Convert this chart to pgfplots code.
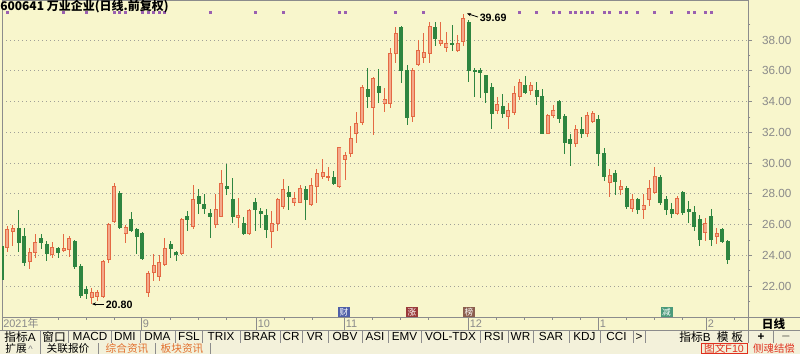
\documentclass[border=0pt]{standalone}
\usepackage{fontspec}
\setmainfont{Liberation Sans}
\newfontfamily\cjk{Noto Sans CJK SC}
\usepackage{pgfplots}
\usepackage{pgfplotstable}
\pgfplotsset{compat=1.18}
\usetikzlibrary{arrows.meta}

\definecolor{bg}{HTML}{F8F6CC}
\definecolor{btnbg}{HTML}{F3F1DA}
\definecolor{upline}{HTML}{E46A44}
\definecolor{upfill}{HTML}{F4A98A}
\definecolor{dncol}{HTML}{2E8540}
\definecolor{gridc}{HTML}{A0A098}
\definecolor{axc}{HTML}{8C8C8C}
\definecolor{labc}{HTML}{8A8A8A}
\definecolor{dotc}{HTML}{9A60B0}
\definecolor{orng}{HTML}{E2702E}
\definecolor{redt}{HTML}{E0301E}
\definecolor{icA}{HTML}{4F5FA8}
\definecolor{icB}{HTML}{9A3A3A}
\definecolor{icC}{HTML}{8B5E4E}
\definecolor{icD}{HTML}{4A9A7A}

% rising candles: index, open, high, low, close
\pgfplotstableread{
i O H L C
2 24.5 25.9 24.2 25.7
3 25.55 26.0 24.6 25.75
6 23.6 24.5 23.1 24.2
7 24.15 25.4 23.8 24.8
10 24.05 24.85 23.8 24.5
12 24.3 25.4 24.2 24.45
13 24.35 25.25 23.9 25.1
17 21.25 21.9 20.8 21.55
18 21.3 21.75 21.05 21.6
19 21.35 23.7 21.2 23.6
20 23.7 26.1 23.5 26.0
21 26.2 28.7 26.1 28.5
23 25.45 26.0 24.8 25.8
27 21.6 23.0 21.3 22.8
28 22.9 24.1 22.3 23.35
29 22.6 24.0 22.3 23.55
30 23.4 25.1 23.3 24.45
33 24.1 26.4 24.0 26.3
35 25.85 28.6 25.7 27.6
39 26.0 28.0 25.8 26.95
40 26.55 29.55 26.5 28.7
43 26.45 27.7 25.8 26.6
45 25.45 27.0 25.3 26.9
49 25.55 26.9 24.5 26.1
50 26.1 27.75 25.6 27.6
51 27.15 28.95 27.0 28.3
53 27.45 28.1 27.2 27.7
54 27.45 28.55 27.4 28.35
56 27.3 29.0 27.2 28.55
57 28.45 29.6 27.4 29.35
58 29.1 30.25 28.95 29.4
59 29.05 29.75 28.8 29.15
61 28.45 31.05 28.4 31.0
62 30.2 30.7 28.9 30.5
63 30.65 32.4 30.4 31.6
64 31.95 33.3 31.3 32.6
65 32.65 35.1 32.5 34.9
67 33.6 35.6 31.8 35.5
69 33.85 34.9 33.3 34.15
70 33.9 37.5 33.6 37.15
71 37.15 38.85 36.5 38.45
74 33.0 36.2 32.7 36.05
75 36.4 38.0 36.3 37.35
76 36.85 38.45 36.5 37.2
77 37.15 39.2 36.5 38.85
79 37.75 39.2 37.6 38.0
80 37.5 38.55 37.2 37.8
82 37.35 38.3 37.2 37.8
83 37.9 39.69 37.6 39.4
89 33.45 34.3 33.2 33.8
91 33.0 33.9 32.2 33.45
92 33.3 35.0 33.1 34.55
93 34.35 35.45 34.1 35.25
95 34.75 35.25 34.4 35.05
98 31.95 33.2 31.9 33.1
99 33.1 33.75 32.9 33.45
103 31.3 32.5 31.05 32.2
105 31.95 33.3 31.7 33.1
106 32.7 33.4 32.6 33.25
109 28.75 29.6 27.8 29.2
111 28.3 28.9 27.9 28.45
113 27.05 28.0 26.8 27.65
115 27.0 28.0 26.35 27.25
116 27.6 28.9 27.2 28.35
117 28.1 29.75 28.0 29.1
121 26.75 27.85 26.6 27.7
126 25.5 26.45 24.95 26.1
128 25.2 25.75 24.75 25.4
}\updata

% falling candles: index, open, high, low, close
\pgfplotstableread{
i O H L C
1 24.6 24.8 22.2 22.4
4 25.75 26.95 24.2 24.8
5 25.2 25.8 23.3 23.5
8 25.1 25.4 24.4 24.85
9 24.7 24.9 23.6 24.1
11 24.45 24.55 23.8 24.2
14 24.9 25.0 23.1 23.25
15 23.3 23.4 21.2 21.4
16 21.8 22.0 21.15 21.5
22 28.05 28.2 25.7 25.8
24 26.35 26.8 25.5 25.6
25 25.7 25.75 24.1 25.2
26 25.4 25.5 23.7 23.8
31 24.7 24.9 23.8 24.45
32 24.15 24.3 23.6 24.05
34 26.5 26.9 25.6 26.35
36 27.8 28.3 26.7 27.35
37 27.3 28.0 26.7 27.05
38 26.7 27.0 25.1 26.5
41 28.5 29.95 27.9 28.35
42 27.6 29.0 26.1 26.5
44 26.1 26.5 25.3 25.45
46 27.45 27.7 25.6 27.0
47 26.85 27.05 25.8 26.75
48 26.6 27.0 25.1 25.65
52 28.1 28.5 26.95 27.85
55 28.25 28.5 26.3 27.6
60 29.05 29.5 28.6 28.7
66 34.8 36.2 33.6 34.3
68 34.95 36.1 33.9 34.6
72 38.8 38.9 35.2 36.05
73 36.05 36.4 32.5 32.95
78 38.8 39.2 37.6 38.1
81 37.8 39.0 37.3 37.7
84 39.15 39.3 35.3 36.05
85 36.05 36.2 34.3 35.95
86 36.05 36.15 34.2 35.9
87 35.7 35.7 33.9 34.6
88 34.9 35.2 32.2 33.2
90 33.7 34.5 32.9 33.25
94 35.05 35.65 34.5 34.6
96 34.75 35.25 33.75 34.35
97 34.35 34.8 31.9 31.95
100 34.0 34.1 32.6 32.9
101 33.0 33.2 30.6 31.35
102 31.5 31.9 29.8 31.3
104 32.2 33.0 31.6 31.95
107 32.85 33.1 29.8 30.65
108 30.65 31.0 28.8 29.1
110 29.3 29.55 27.9 28.8
112 28.35 28.5 27.0 27.15
114 27.6 27.75 26.7 26.95
118 29.05 29.2 27.3 27.45
119 27.6 27.85 26.6 26.95
120 27.0 27.4 26.4 26.7
122 28.1 28.2 26.6 26.8
123 26.95 27.5 26.1 26.85
124 26.8 27.2 25.6 25.85
125 26.35 26.6 24.6 25.0
127 26.5 27.0 24.6 25.0
129 25.7 25.8 24.8 24.9
130 24.9 25.0 23.4 23.7
}\downdata

% info markers row
\pgfplotstableread{
i y
2 39.76
12 39.76
16 39.76
21 39.76
22 39.76
23 39.76
26 39.76
27 39.76
28 39.76
29 39.76
30 39.76
38 39.76
46 39.76
51 39.76
61 39.76
62 39.76
71 39.76
76 39.76
93 39.76
96 39.76
99 39.76
100 39.76
102 39.76
103 39.76
104 39.76
105 39.76
106 39.76
108 39.76
109 39.76
111 39.76
112 39.76
114 39.76
117 39.76
120 39.76
123 39.76
124 39.76
126 39.76
127 39.76
}\dotdata

\newcommand\ui{\fontsize{8.8pt}{10pt}\selectfont}
\pgfplotsset{
  candlebar/.style={draw=none, mark=none, forget plot,
    error bars/.cd, y dir=both, y explicit, error mark=none},
}

\begin{document}
\begin{tikzpicture}
\useasboundingbox (0,0) rectangle (600pt,-265.5pt);
\fill[bg] (0,0) rectangle (600pt,-265.5pt);

\begin{axis}[
  at={(1.5pt,-237.75pt)}, anchor=south west,
  scale only axis, width=559.5pt, height=237.75pt,
  xmin=1.053, xmax=133.56, ymin=19.984, ymax=40.602,
  axis line style={axc, line width=0.6pt},
  xtick=\empty,
  ytick={22,24,...,38}, minor ytick={21,23,...,39},
  ytick pos=right, tick align=outside,
  major tick length=3pt, minor tick length=1.8pt,
  tick style={axc, line width=0.5pt},
  yticklabel style={font=\fontsize{8.8pt}{10pt}\selectfont, text=labc, xshift=4pt},
  /pgf/number format/fixed, /pgf/number format/fixed zerofill,
  /pgf/number format/precision=2, /pgf/number format/assume math mode=true,
  ymajorgrids, grid style={gridc, line width=0.5pt, dash pattern=on 0.75pt off 2.25pt},
]
% wicks
\addplot[candlebar, error bar style={draw=upline, line width=0.75pt}]
  table[x=i, y expr={(\thisrow{H}+\thisrow{L})/2}, y error expr={(\thisrow{H}-\thisrow{L})/2}] {\updata};
\addplot[candlebar, error bar style={draw=dncol, line width=0.75pt}]
  table[x=i, y expr={(\thisrow{H}+\thisrow{L})/2}, y error expr={(\thisrow{H}-\thisrow{L})/2}] {\downdata};
% rising bodies (outlined)
\addplot[candlebar, error bar style={draw=upline, line width=3pt}]
  table[x=i, y expr={(\thisrow{O}+\thisrow{C})/2}, y error expr={(\thisrow{C}-\thisrow{O})/2}] {\updata};
\addplot[candlebar, error bar style={draw=upfill, line width=1.6pt}]
  table[x=i, y expr={(\thisrow{O}+\thisrow{C})/2}, y error expr={(\thisrow{C}-\thisrow{O})/2}] {\updata};
\addplot[only marks, mark=-, mark size=1.5pt, mark options={draw=upline, line width=0.7pt}]
  table[x=i, y=O] {\updata};
\addplot[only marks, mark=-, mark size=1.5pt, mark options={draw=upline, line width=0.7pt}]
  table[x=i, y=C] {\updata};
% falling bodies (filled)
\addplot[candlebar, error bar style={draw=dncol, line width=3pt}]
  table[x=i, y expr={(\thisrow{O}+\thisrow{C})/2}, y error expr={(\thisrow{O}-\thisrow{C})/2}] {\downdata};
\addplot[only marks, mark=-, mark size=1.5pt, mark options={draw=dncol, line width=0.7pt}]
  table[x=i, y=O] {\downdata};
\addplot[only marks, mark=-, mark size=1.5pt, mark options={draw=dncol, line width=0.7pt}]
  table[x=i, y=C] {\downdata};
% info markers
\addplot[only marks, color=dotc, mark=square*, mark size=0.75pt,
  mark options={draw=dotc, fill=dotc, line width=0pt}]
  table[x=i, y=y] {\dotdata};
\end{axis}

\begin{scope}[x=0.75pt, y=-0.75pt]
  % title
  \node[anchor=west, inner sep=0pt] at (0,6.5)
    {\cjk\bfseries\fontsize{9pt}{10pt}\selectfont 600641 万业企业(日线.前复权)};
  % extreme annotations
  \draw[line width=0.6pt, -{Stealth[length=3pt, width=2.4pt]}] (478,17) -- (467,13.5);
  \node[anchor=west, inner sep=0pt] at (479.5,17.5) {\bfseries\fontsize{8pt}{9pt}\selectfont 39.69};
  \draw[line width=0.6pt, -{Stealth[length=3pt, width=2.4pt]}] (104,304) -- (92,304);
  \node[anchor=west, inner sep=0pt] at (105.5,304.5) {\bfseries\fontsize{8pt}{9pt}\selectfont 20.80};
  % event icons
  \tikzset{icon/.style={fill=#1, text=white, minimum width=9pt, minimum height=7pt, inner sep=0pt,
    font=\cjk\fontsize{6.5pt}{7pt}\selectfont}}
  \node[icon=icA] at (344,312) {财};
  \node[icon=icB] at (412,312) {涨};
  \node[icon=icC] at (469,312) {榜};
  \node[icon=icD] at (666.5,312) {减};

  % date band
  \draw[axc, line width=0.6pt] (2,317) -- (2,330);
  \draw[axc, line width=0.6pt] (748,317) -- (800,317);
  \draw[axc, line width=0.6pt] (748,317) -- (748,343);
  \draw[axc, line width=0.6pt] (0,330) -- (800,330);
  \foreach \X in {141,256,344,468,598,706} \draw[axc, line width=0.5pt] (\X,317) -- (\X,330);
  \foreach \X in {30,58,86,114,170,198,226,284,312,372,400,428,496,524,552,580,626,654,682,734}
    \draw[axc, line width=0.4pt] (\X,317) -- (\X,319.5);
  \begin{scope}[every node/.style={anchor=west, inner sep=0pt, text=labc,
      font=\fontsize{8.2pt}{9pt}\selectfont}]
    \node at (3,323.8) {2021{\cjk 年}};
    \node at (142.5,323.8) {9};
    \node at (257.5,323.8) {10};
    \node at (345.5,323.8) {11};
    \node at (469.5,323.8) {12};
    \node at (599.5,323.8) {1};
    \node at (707.5,323.8) {2};
  \end{scope}
  \node[inner sep=0pt] at (773.5,323.8) {\cjk\bfseries\fontsize{8.7pt}{9pt}\selectfont 日线};

  % button row
  \fill[btnbg] (0,330.3) rectangle (800,343);
  \draw[axc, line width=0.6pt] (0,330) -- (800,330);
  \draw[axc, line width=0.6pt] (0,343) -- (800,343);
  \foreach \X in {40,68,111,140,175,202,240,280,302,328,362,388,421,480,508,533,569,600,633,645,748,773}
    \draw[axc, line width=0.5pt] (\X,330) -- (\X,343);
  \begin{scope}[every node/.style={inner sep=0pt, text=black, font=\ui}]
    \node at (20,336.8) {{\cjk 指标}A};
    \node at (54,336.8) {\cjk 窗口};
    \node at (90,336.8) {MACD};
    \node at (125,336.8) {DMI};
    \node at (157.5,336.8) {DMA};
    \node at (189,336.8) {FSL};
    \node at (221,336.8) {TRIX};
    \node at (260,336.8) {BRAR};
    \node at (291,336.8) {CR};
    \node at (315,336.8) {VR};
    \node at (345,336.8) {OBV};
    \node at (375,336.8) {ASI};
    \node at (404.5,336.8) {EMV};
    \node at (450.5,336.8) {VOL-TDX};
    \node at (494,336.8) {RSI};
    \node at (520.5,336.8) {WR};
    \node at (551,336.8) {SAR};
    \node at (584.5,336.8) {KDJ};
    \node at (616.5,336.8) {CCI};
    \node at (639,336.8) {>};
    \node at (695,336.8) {{\cjk 指标}B};
    \node at (730,336.8) {\cjk 模 板};
    \node at (761,336.8) {\bfseries +};
    \node at (786,336.8) {\bfseries $-$};
  \end{scope}

  % bottom row
  \fill[btnbg] (0,343.3) rectangle (800,354);
  \foreach \X in {40,98,155,210} \draw[axc, line width=0.5pt] (\X,343) -- (\X,354);
  \begin{scope}[every node/.style={inner sep=0pt, font=\fontsize{8pt}{9pt}\selectfont}]
    \node[text=black] at (19,348.6) {{\cjk 扩展}{\color{gray}\fontsize{7pt}{7pt}\selectfont\,\^{}}};
    \node[text=black] at (68,348.6) {\cjk 关联报价};
    \node[text=orng] at (127,348.6) {\cjk 综合资讯};
    \node[text=orng] at (182,348.6) {\cjk 板块资讯};
    \draw[redt, line width=0.6pt] (701,343.6) rectangle (747,353.6);
    \node[text=redt] at (724,348.6) {{\cjk 图文}F10};
    \node[text=redt, font=\fontsize{7.8pt}{9pt}\selectfont] at (774,348.6) {\cjk 侧魂结偿};
  \end{scope}
\end{scope}
\end{tikzpicture}
\end{document}
